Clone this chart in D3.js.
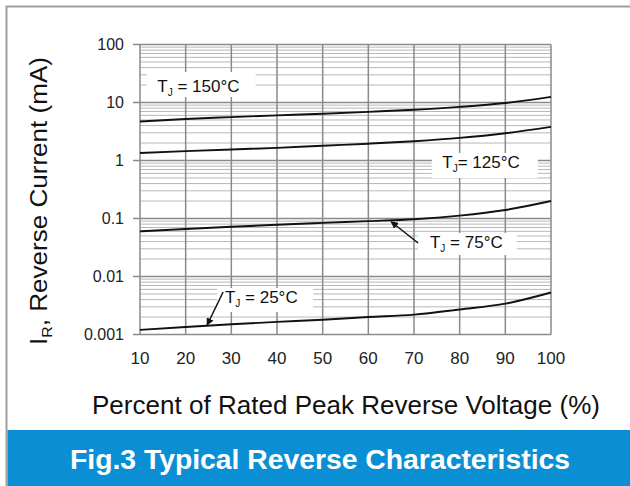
<!DOCTYPE html>
<html>
<head>
<meta charset="utf-8">
<script src="https://cdn.jsdelivr.net/npm/d3@7"></script>
<style>
  body { margin: 0; background: #fff; }
  text { font-family: "Liberation Sans", Arial, sans-serif; }
</style>
</head>
<body>
<div id="chart"></div>
<script>
//data
var pctRated = [10, 20, 30, 40, 50, 60, 70, 80, 90, 100];
var ir150 = [4.7, 5.2, 5.6, 6.0, 6.4, 6.9, 7.5, 8.4, 9.8, 12.5];
var ir125 = [1.35, 1.45, 1.55, 1.65, 1.8, 1.95, 2.15, 2.45, 2.95, 3.8];
var ir75 = [0.06, 0.066, 0.072, 0.078, 0.084, 0.09, 0.097, 0.112, 0.14, 0.2];
var ir25 = [0.0012, 0.00135, 0.0015, 0.00165, 0.0018, 0.002, 0.0022, 0.0027, 0.0034, 0.0053];
var yTicks = [0.001, 0.01, 0.1, 1, 10, 100];
var yTickLabels = ["0.001", "0.01", "0.1", "1", "10", "100"];
var curveLabels = [" = 150°C", "= 125°C", " = 75°C", " = 25°C"];

//svg size and plot box
var W = 630, H = 486;
var margin = {top: 44.5, left: 140, right: 79, bottom: 151.5};
var width = W - margin.left - margin.right,
    height = H - margin.top - margin.bottom;

var svg = d3.select("#chart")
  .append("svg")
    .attr("width", W)
    .attr("height", H);

//outer frame
svg.append("path")
  .attr("d", "M6.5,486 V6.5 H630")
  .attr("fill", "none")
  .attr("stroke", "#a0a0a0")
  .attr("stroke-width", 2);

//caption banner
svg.append("rect")
  .attr("x", 7.5).attr("y", 430)
  .attr("width", W - 7.5).attr("height", H - 430)
  .attr("fill", "#0b8fd4");
svg.append("text")
  .attr("x", 320).attr("y", 469)
  .attr("text-anchor", "middle")
  .attr("fill", "#fff")
  .attr("textLength", 500)
  .attr("lengthAdjust", "spacingAndGlyphs")
  .style("font-size", "27px")
  .style("font-weight", "bold")
  .text("Fig.3 Typical Reverse Characteristics");

var g = svg.append("g")
  .attr("transform", "translate(" + margin.left + "," + margin.top + ")");

var x = d3.scaleLinear().domain([10, 100]).range([0, width]);
var y = d3.scaleLog().domain([0.001, 100]).range([height, 0]);

//minor horizontal grid (2..9 in each decade)
var minor = [];
yTicks.slice(0, -1).forEach(function(d) {
  for (var k = 2; k <= 9; k++) minor.push(d * k);
});
g.selectAll(".minor")
  .data(minor)
  .enter().append("line")
  .attr("class", "minor")
  .attr("x1", 0).attr("x2", width)
  .attr("y1", function(d) { return y(d); })
  .attr("y2", function(d) { return y(d); })
  .attr("stroke", "#b8b8b8")
  .attr("stroke-width", 1);

//vertical grid
g.selectAll(".vgrid")
  .data(pctRated)
  .enter().append("line")
  .attr("class", "vgrid")
  .attr("x1", function(d) { return x(d); })
  .attr("x2", function(d) { return x(d); })
  .attr("y1", 0).attr("y2", height)
  .attr("stroke", "#8a8a8a")
  .attr("stroke-width", 1.5);

//major horizontal grid with tick stubs on the left
g.selectAll(".major")
  .data(yTicks)
  .enter().append("line")
  .attr("class", "major")
  .attr("x1", -7).attr("x2", width)
  .attr("y1", function(d) { return y(d); })
  .attr("y2", function(d) { return y(d); })
  .attr("stroke", "#8a8a8a")
  .attr("stroke-width", 1.5);

//y tick labels
g.selectAll(".ylab")
  .data(yTicks)
  .enter().append("text")
  .attr("class", "ylab")
  .attr("x", -16)
  .attr("y", function(d) { return y(d) + 5.5; })
  .attr("text-anchor", "end")
  .style("font-size", "16px")
  .attr("fill", "#222")
  .text(function(d, i) { return yTickLabels[i]; });

//x tick labels
g.selectAll(".xlab")
  .data(pctRated)
  .enter().append("text")
  .attr("class", "xlab")
  .attr("x", function(d) { return x(d); })
  .attr("y", height + 29.5)
  .attr("text-anchor", "middle")
  .style("font-size", "17px")
  .attr("fill", "#222")
  .text(function(d) { return d; });

//curves
var line = d3.line()
  .curve(d3.curveMonotoneX)
  .x(function(d) { return x(d[0]); })
  .y(function(d) { return y(d[1]); });

[ir150, ir125, ir75, ir25].forEach(function(s) {
  g.append("path")
    .datum(d3.zip(pctRated, s))
    .attr("d", line)
    .attr("fill", "none")
    .attr("stroke", "#111")
    .attr("stroke-width", 1.9);
});

//label boxes, placed in data units
var boxes = [
  {t: curveLabels[0], x0: 11.5, x1: 35.3, y0: 33.6, y1: 12.4, tx: 13.8, ty: 15.4},
  {t: curveLabels[1], x0: 73.9, x1: 97.1, y0: 1.35, y1: 0.5, tx: 76.2, ty: 0.743},
  {t: curveLabels[2], x0: 70.9, x1: 92.5, y0: 0.0562, y1: 0.0235, tx: 73.5, ty: 0.031},
  {t: curveLabels[3], x0: 26.9, x1: 47.9, y0: 0.00634, y1: 0.00244, tx: 28.6, ty: 0.00353}
];
boxes.forEach(function(b) {
  g.append("rect")
    .attr("x", x(b.x0)).attr("y", y(b.y0))
    .attr("width", x(b.x1) - x(b.x0))
    .attr("height", y(b.y1) - y(b.y0))
    .attr("fill", "#fff");
  var t = g.append("text")
    .attr("x", x(b.tx)).attr("y", y(b.ty))
    .style("font-size", "17px")
    .attr("fill", "#111");
  t.append("tspan").text("T");
  t.append("tspan").attr("dy", 4).style("font-size", "10px").text("J");
  t.append("tspan").attr("dy", -4).text(b.t);
});

//arrows to the 75 and 25 curves
svg.append("defs").append("marker")
  .attr("id", "arr")
  .attr("viewBox", "0 0 10 10")
  .attr("refX", 9).attr("refY", 5)
  .attr("markerWidth", 5).attr("markerHeight", 5)
  .attr("orient", "auto")
  .append("path")
  .attr("d", "M0,0 L10,5 L0,10 z")
  .attr("fill", "#111");

var arrows = [
  {x0: 70.9, y0: 0.0378, x1: 65.0, y1: 0.088},
  {x0: 28.2, y0: 0.0054, x1: 24.7, y1: 0.00146}
];
arrows.forEach(function(a) {
  g.append("line")
    .attr("x1", x(a.x0)).attr("y1", y(a.y0))
    .attr("x2", x(a.x1)).attr("y2", y(a.y1))
    .attr("stroke", "#111")
    .attr("stroke-width", 1.5)
    .attr("marker-end", "url(#arr)");
});

//axis titles
svg.append("text")
  .attr("x", 346).attr("y", 414)
  .attr("text-anchor", "middle")
  .attr("textLength", 508)
  .attr("lengthAdjust", "spacingAndGlyphs")
  .style("font-size", "25px")
  .attr("fill", "#111")
  .text("Percent of Rated Peak Reverse Voltage (%)");

var yt = svg.append("text")
  .attr("transform", "translate(47,201) rotate(-90)")
  .attr("text-anchor", "middle")
  .attr("textLength", 288)
  .attr("lengthAdjust", "spacingAndGlyphs")
  .style("font-size", "23px")
  .attr("fill", "#111");
yt.append("tspan").text("I");
yt.append("tspan").attr("dy", 5).style("font-size", "14px").text("R");
yt.append("tspan").attr("dy", -5).text(", Reverse Current (mA)");
</script>
</body>
</html>
